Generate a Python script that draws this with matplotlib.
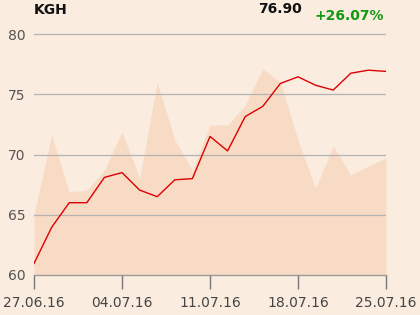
import matplotlib
matplotlib.use("Agg")
import matplotlib.pyplot as plt

dates = ["27.06.16", "28.06.16", "29.06.16", "30.06.16", "01.07.16",
         "04.07.16", "05.07.16", "06.07.16", "07.07.16", "08.07.16",
         "11.07.16", "12.07.16", "13.07.16", "14.07.16", "15.07.16",
         "18.07.16", "19.07.16", "20.07.16", "21.07.16", "22.07.16",
         "25.07.16"]
price = [60.95, 63.95, 66.0, 66.0, 68.1, 68.5, 67.05, 66.5, 67.9, 68.0,
         71.5, 70.3, 73.15, 74.0, 75.9, 76.45, 75.75, 75.35, 76.75, 77.0, 76.9]
shade = [65.0, 71.6, 66.9, 67.05, 68.7, 71.9, 68.0, 76.0, 71.2, 68.7,
         72.45, 72.45, 74.1, 77.1, 76.0, 71.2, 67.2, 70.7, 68.3, 69.05, 69.7]
tick_labels = ["27.06.16", "04.07.16", "11.07.16", "18.07.16", "25.07.16"]
y_ticks = [60, 65, 70, 75, 80]
title = "KGH"
last_value = "76.90"
change = "+26.07%"

bg = "#fbece0"
fill_c = "#f8dbc5"
W, H = 420, 315
fig = plt.figure(figsize=(W / 100, H / 100), dpi=100, facecolor=bg)
ax_top = 22
ax = fig.add_axes([34 / W, (H - 275) / H, (386 - 34) / W, (275 - ax_top) / H])
ax.set_facecolor(bg)

x = list(range(len(dates)))
ax.fill_between(x, 60, shade, color=fill_c, lw=0, zorder=1)
ax.plot(x, price, color="#dd0000", lw=1.0, zorder=3)

ax.set_xlim(0, len(dates) - 1)
ax.set_ylim(60, 81)
ax.set_yticks(y_ticks)
ax.set_yticklabels([str(v) for v in y_ticks])
tick_pos = [dates.index(t) for t in tick_labels]
ax.set_xticks(tick_pos)
ax.set_xticklabels(tick_labels)

for v in y_ticks[1:]:
    ax.axhline(v, color="#b3b3b3", lw=0.9, zorder=2)

for s in ["top", "right", "left"]:
    ax.spines[s].set_visible(False)
ax.spines["bottom"].set_color("#999999")
ax.spines["bottom"].set_linewidth(1.0)
ax.spines["bottom"].set_zorder(4)

ax.tick_params(axis="y", length=0, pad=6, labelsize=10, labelcolor="#555555")
ax.tick_params(axis="x", length=10, width=1.0, color="#777777", pad=5,
               labelsize=10, labelcolor="#444444", direction="out")

fig.text(34 / W, 1 - 10 / H, title, fontsize=10, fontweight="bold",
         color="#111111", ha="left", va="center")
fig.text(302 / W, 1 - 9 / H, last_value, fontsize=10, fontweight="bold",
         color="#111111", ha="right", va="center")
fig.text(384 / W, 1 - 16 / H, change, fontsize=10, fontweight="bold",
         color="#119911", ha="right", va="center")

fig.savefig("out.png", dpi=100, facecolor=bg)
